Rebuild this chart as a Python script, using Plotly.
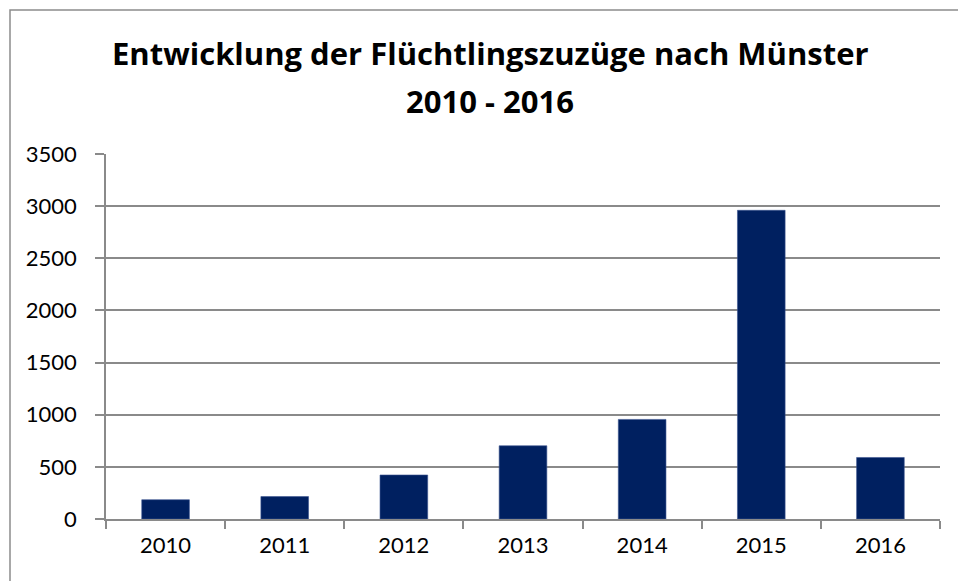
import plotly.graph_objects as go

years = ["2010", "2011", "2012", "2013", "2014", "2015", "2016"]
zuzuege = [185, 215, 422, 702, 955, 2960, 590]
title_line1 = "Entwicklung der Flüchtlingszuzüge nach Münster"
title_line2 = "2010 - 2016"

W, H = 958, 581
L, R, T, B = 106, 18, 154, 62
pw, ph = W - L - R, H - T - B

def px_x(x):
    return (x - L) / pw

def px_y(y):
    return (H - B - y) / ph

grid = "#8a8a8a"
font = "Lato"
tfont = "Open Sans"

fig = go.Figure(go.Bar(
    x=years, y=zuzuege,
    marker=dict(color="#002060", line=dict(color="#3a5490", width=0.6)),
))

fig.update_layout(
    width=W, height=H,
    margin=dict(l=L, r=R, t=T, b=B),
    paper_bgcolor="white", plot_bgcolor="white",
    bargap=0.6,
    showlegend=False,
    font=dict(family=font, size=22, color="black"),
    xaxis=dict(
        type="category",
        showline=True, linecolor=grid, linewidth=1.5,
        ticks="outside", tickson="boundaries", ticklen=8,
        tickcolor=grid, tickwidth=1.5,
        showgrid=False,
        tickfont=dict(family=font, size=22, color="black"),
        ticklabelstandoff=6,
    ),
    yaxis=dict(
        range=[0, 3500], dtick=500, tick0=0,
        showline=True, linecolor=grid, linewidth=1.5,
        showgrid=True, gridcolor=grid, gridwidth=1.5,
        zeroline=False,
        ticks="outside", ticklen=9, tickcolor=grid, tickwidth=1.5,
        tickfont=dict(family=font, size=22, color="black"),
        ticklabelstandoff=14,
    ),
    shapes=[dict(
        type="rect", xref="paper", yref="paper",
        x0=px_x(10), x1=px_x(W + 40), y0=px_y(H + 40), y1=px_y(10),
        line=dict(color="#8c8c8c", width=1.5), fillcolor="rgba(0,0,0,0)",
        layer="below",
    )],
    annotations=[
        dict(text="<b>" + title_line1 + "</b>", xref="paper", yref="paper",
             x=px_x(490), y=px_y(53), xanchor="center", yanchor="middle",
             showarrow=False, font=dict(family=tfont, size=31, color="black")),
        dict(text="<b>" + title_line2 + "</b>", xref="paper", yref="paper",
             x=px_x(490), y=px_y(101), xanchor="center", yanchor="middle",
             showarrow=False, font=dict(family=tfont, size=31, color="black")),
    ],
)

fig.write_html(
    "out.html",
    config={"displayModeBar": False},
    post_script="document.body.style.margin='0';document.body.style.overflow='hidden';",
)
